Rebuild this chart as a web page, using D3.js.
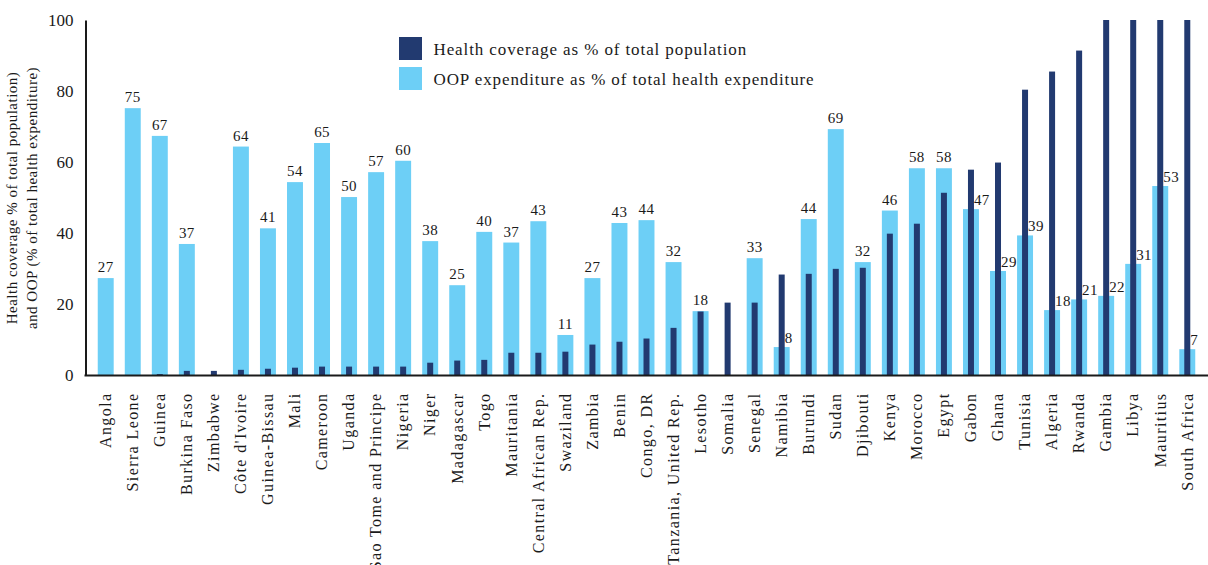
<!DOCTYPE html>
<html>
<head>
<meta charset="utf-8">
<script src="https://cdn.jsdelivr.net/npm/d3@7"></script>
<style>
  html, body { margin: 0; padding: 0; background: #fff; }
  svg { display: block; }
  text { font-family: "Liberation Serif", "Times New Roman", serif; fill: #1a1a1a; }
</style>
</head>
<body>
<svg id="chart" width="1208" height="565"></svg>
<script>
// ---------- data ----------
const countries = ["Angola","Sierra Leone","Guinea","Burkina Faso","Zimbabwe","Côte d'Ivoire","Guinea-Bissau","Mali","Cameroon","Uganda","Sao Tome and Principe","Nigeria","Niger","Madagascar","Togo","Mauritania","Central African Rep.","Swaziland","Zambia","Benin","Congo, DR","Tanzania, United Rep.","Lesotho","Somalia","Senegal","Namibia","Burundi","Sudan","Djibouti","Kenya","Morocco","Egypt","Gabon","Ghana","Tunisia","Algeria","Rwanda","Gambia","Libya","Mauritius","South Africa"];

// Health coverage as % of total population (dark bars)
const coverage = [0,0,0.4,1.3,1.3,1.6,1.9,2.2,2.5,2.5,2.5,2.5,3.6,4.2,4.4,6.4,6.4,6.7,8.7,9.5,10.4,13.4,18.0,20.5,20.5,28.4,28.6,30.0,30.3,39.9,42.7,51.4,57.9,59.9,80.4,85.5,91.4,100,100,100,100];

// OOP expenditure as % of total health expenditure (light bars); null = no data
const oop = [27.4,75.2,67.4,37.0,null,64.4,41.4,54.4,65.4,50.2,57.2,60.4,37.8,25.4,40.4,37.4,43.4,11.4,27.4,42.9,43.7,31.9,18.1,null,33.0,8.0,44.0,69.3,31.9,46.4,58.3,58.3,46.8,29.4,39.4,18.4,21.4,22.4,31.4,53.3,7.4];

const yTicks = [0,20,40,60,80,100];
const seriesNames = ["Health coverage as % of total population","OOP expenditure as % of total health expenditure"];
const yTitleLines = ["Health coverage % of total population)","and OOP (% of total health expenditure)"];

// ---------- styles ----------
const darkColor = "#223a70";
const lightColor = "#6dcff6";
const axisColor = "#1a1a1a";
const serif = "Liberation Serif, Times New Roman, serif";

const rows = countries.map((c, i) => ({ name: c, cov: coverage[i], oop: oop[i] }));

const svg = d3.select("#chart");

const y = d3.scaleLinear().domain([0, 100]).range([375.5, 20]);
const x = d3.scaleBand().domain(countries).range([92.2, 1200.8]).paddingInner(0.41).paddingOuter(0.205);
const bw = x.bandwidth();
const darkW = 6;

// light bars
svg.append("g").selectAll("rect")
  .data(rows.filter(d => d.oop != null))
  .join("rect")
  .attr("x", d => x(d.name))
  .attr("width", bw)
  .attr("y", d => y(d.oop))
  .attr("height", d => y(0) - y(d.oop))
  .attr("fill", lightColor);

// dark bars
svg.append("g").selectAll("rect")
  .data(rows.filter(d => d.cov > 0))
  .join("rect")
  .attr("x", d => x(d.name) + bw / 2 - darkW / 2)
  .attr("width", darkW)
  .attr("y", d => y(d.cov))
  .attr("height", d => y(0) - y(d.cov))
  .attr("fill", darkColor);

// value labels
const fmt = d3.format(".0f");
svg.append("g").selectAll("text")
  .data(rows.filter(d => d.oop != null))
  .join("text")
  .attr("x", d => d.cov > d.oop ? x(d.name) + bw / 2 + 3 : x(d.name) + bw / 2)
  .attr("y", d => d.cov > d.oop ? y(d.oop) - 4 : y(d.oop) - 6)
  .attr("text-anchor", d => d.cov > d.oop ? "start" : "middle")
  .style("font-size", "15px")
  .style("letter-spacing", "0.4px")
  .text(d => fmt(d.oop));

// y axis
const yAxis = svg.append("g")
  .attr("transform", "translate(85.5,0)")
  .attr("font-family", serif)
  .call(d3.axisLeft(y).tickValues(yTicks).tickSize(0).tickPadding(12).tickFormat(d3.format("d")));
yAxis.attr("font-family", serif);
yAxis.select(".domain").attr("stroke", axisColor).attr("stroke-width", 2);
yAxis.selectAll("text").style("font-size", "17px").style("font-family", serif).attr("fill", axisColor);

// x axis baseline
svg.append("line")
  .attr("x1", 84.5).attr("x2", 1208)
  .attr("y1", y(0)).attr("y2", y(0))
  .attr("stroke", axisColor).attr("stroke-width", 2);

// category labels
const xAxis = svg.append("g")
  .attr("transform", `translate(0,${y(0)})`)
  .call(d3.axisBottom(x).tickSize(0).tickPadding(0));
xAxis.attr("font-family", serif);
xAxis.select(".domain").remove();
xAxis.selectAll("text")
  .style("font-size", "16px")
  .style("font-family", serif)
  .style("letter-spacing", "1.4px")
  .attr("fill", axisColor)
  .attr("text-anchor", "end")
  .attr("transform", "rotate(-90)")
  .attr("x", -17)
  .attr("y", 0)
  .attr("dy", "0.33em");

// y axis title
svg.append("g").selectAll("text")
  .data(yTitleLines)
  .join("text")
  .attr("transform", (d, i) => `translate(${[12, 32.5][i]},198) rotate(-90)`)
  .attr("text-anchor", "middle")
  .attr("dy", "0.33em")
  .style("font-size", "15px")
  .style("letter-spacing", "0.5px")
  .text(d => d);

// legend
const legend = svg.append("g");
const legendColors = [darkColor, lightColor];
legend.selectAll("rect")
  .data(seriesNames)
  .join("rect")
  .attr("x", 399)
  .attr("y", (d, i) => 37 + i * 30)
  .attr("width", 23)
  .attr("height", 23)
  .attr("fill", (d, i) => legendColors[i]);
legend.selectAll("text")
  .data(seriesNames)
  .join("text")
  .attr("x", 433.5)
  .attr("y", (d, i) => 55 + i * 30)
  .style("font-size", "17px")
  .style("letter-spacing", "0.9px")
  .text(d => d);
</script>
</body>
</html>
